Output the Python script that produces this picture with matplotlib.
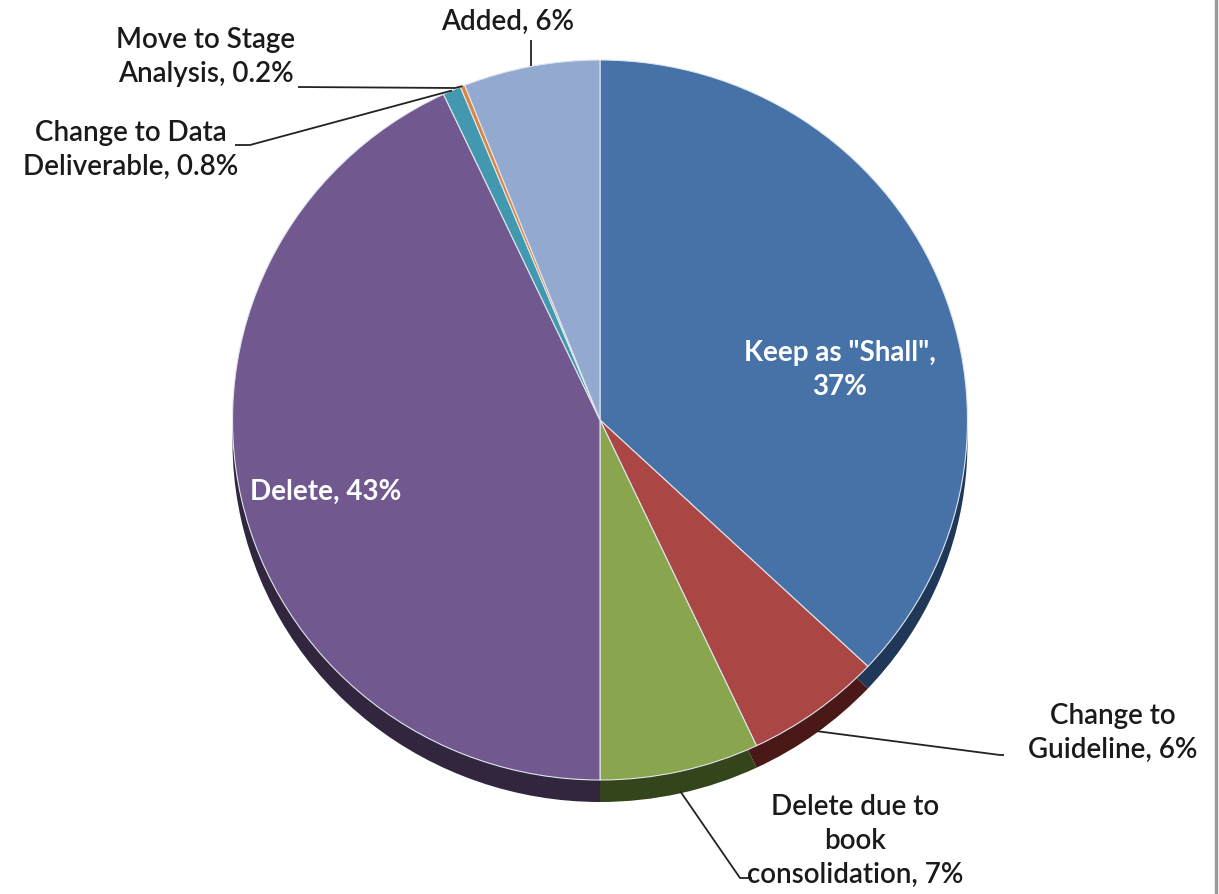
import matplotlib
matplotlib.use("Agg")
import matplotlib.pyplot as plt
import numpy as np

# ---- data ----
categories = ['Keep as "Shall"', 'Change to\nGuideline', 'Delete due to\nbook\nconsolidation',
              'Delete', 'Change to Data\nDeliverable', 'Move to Stage\nAnalysis', 'Added']
values = [37, 6, 7, 43, 0.8, 0.2, 6]
pct_labels = ['37%', '6%', '7%', '43%', '0.8%', '0.2%', '6%']
colors = ['#4672A8', '#AA4744', '#89A54E', '#71588F', '#4198AF', '#DB843D', '#93A9CF']
shade = ['#1f3858', '#4a1816', '#34441b', '#32263f', '#1d4b57', '#6b3a12', '#4c5f80']

W, H = 1219, 894
SY = 367.5 / 360.0  # slight vertical squash of the pie

def P(px, py):
    return px, (H - py) * SY

fig = plt.figure(figsize=(W / 100, H / 100), dpi=100)
ax = fig.add_axes([0, 0, 1, 1])

cx, cy = P(600, 420)
R = 367.5
depth = 22 * SY

# extruded side (shadow)
ax.pie(values, colors=shade, startangle=90, counterclock=False,
       center=(cx, cy - depth), radius=R,
       wedgeprops=dict(edgecolor='none', linewidth=0))
wedges, _ = ax.pie(values, colors=colors, startangle=90, counterclock=False,
                   center=(cx, cy), radius=R,
                   wedgeprops=dict(edgecolor='#dfe6ee', linewidth=0.8))

ax.set_aspect('auto')
ax.set_xlim(0, W)
ax.set_ylim(0, H * SY)
ax.axis('off')

FONT = 'Lato'
FS = 20
TC = '#1a1a1a'
LS = 1.38

def anchor(i, extra=0.0):
    w = wedges[i]
    m = np.deg2rad((w.theta1 + w.theta2) / 2)
    return cx + R * np.cos(m), cy + R * np.sin(m) - extra

def lab(i):
    return f"{categories[i]}, {pct_labels[i]}"

# white inside labels
x, y = P(840, 370)
ax.text(x, y, f"{categories[0]},\n{pct_labels[0]}", color='white', fontsize=FS,
        fontfamily=FONT, fontweight='bold', ha='center', va='center', linespacing=LS)
x, y = P(326, 492)
ax.text(x, y, lab(3), color='white', fontsize=FS, fontfamily=FONT,
        fontweight='bold', ha='center', va='center')

# outside labels
def txt(px, py, s, ha='center'):
    x, y = P(px, py)
    ax.text(x, y, s, color=TC, fontsize=FS, fontfamily=FONT, fontweight='semibold',
            ha=ha, va='center', linespacing=LS)

txt(508, 22, lab(6))
txt(206, 57, lab(5))
txt(131, 150, lab(4))
txt(1113, 733, lab(1))
txt(855, 841, lab(2))

def leader(points):
    xs, ys = zip(*points)
    ax.plot(xs, ys, color='#222222', lw=1.3, solid_capstyle='butt')

a = anchor(6)
leader([a, (a[0], P(0, 40)[1])])
leader([P(298, 87), P(455, 88), anchor(5)])
leader([P(235, 145), P(250, 145), anchor(4)])
leader([anchor(1, depth * 0.9), P(1000, 755), P(1004, 755)])
leader([anchor(2, depth * 0.9), P(740, 878), P(752, 878)])

# right frame edge
fig.add_artist(plt.Line2D([1216 / W, 1216 / W], [0, 1], transform=fig.transFigure,
                          color='#9a9a9a', lw=2.5))

fig.savefig('out.png', dpi=100, facecolor='white')
